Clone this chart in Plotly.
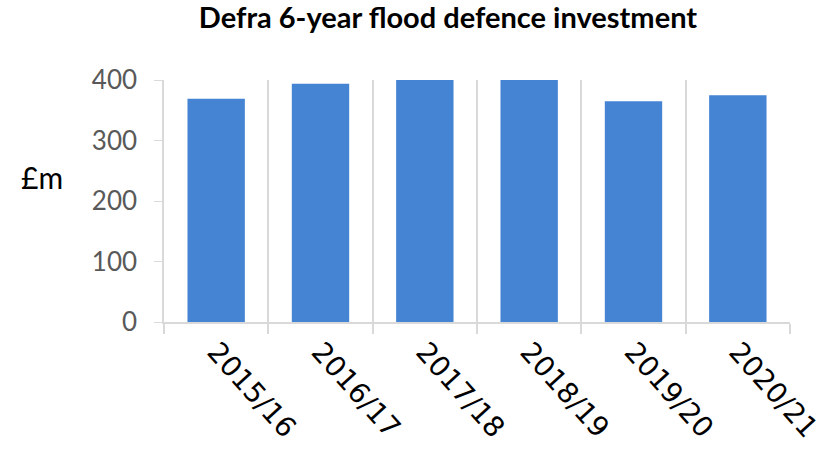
import plotly.graph_objects as go

categories = ["2015/16", "2016/17", "2017/18", "2018/19", "2019/20", "2020/21"]
investment = [369, 394, 400, 400, 365, 375]
y_ticks = [0, 100, 200, 300, 400]

fig = go.Figure(go.Bar(x=categories, y=investment, marker_color="#4584D3",
                       marker_line_width=0, width=0.55))

fig.update_layout(
    width=825, height=465,
    margin=dict(l=164, r=35, t=80, b=143),
    paper_bgcolor="white", plot_bgcolor="white",
    font=dict(family="Lato, Open Sans, sans-serif", color="#595959"),
    title=dict(text="<b>Defra 6-year flood defence investment</b>", x=0.543, xanchor="center",
               y=0.961, yanchor="middle", font=dict(size=29, color="black", family="Lato")),
    showlegend=False,
)
fig.update_xaxes(type="category", tickson="boundaries", showgrid=True, gridcolor="#D9D9D9",
                 gridwidth=1.5, showline=True, linecolor="#D9D9D9", linewidth=2,
                 ticks="outside", ticklen=10, tickcolor="#D9D9D9", tickwidth=1.5,
                 tickangle=48, automargin=False,
                 tickfont=dict(size=28, color="black", family="DejaVu Sans"))
fig.update_yaxes(range=[0, 400], tickvals=y_ticks, showgrid=False, showline=True,
                 linecolor="#D9D9D9", linewidth=1.5, ticks="outside", ticklen=8,
                 tickcolor="#D9D9D9", tickfont=dict(size=26, color="#595959"), zeroline=False,
                 ticklabelstandoff=12, automargin=False)
fig.add_annotation(text="£m", xref="paper", yref="paper", x=-0.195, y=0.6,
                   xanchor="center", yanchor="middle",
                   showarrow=False, font=dict(size=30, color="black"))

fig.write_html("out.html", config={"displayModeBar": False},
               post_script="document.body.style.margin='0';document.body.style.padding='0';")
